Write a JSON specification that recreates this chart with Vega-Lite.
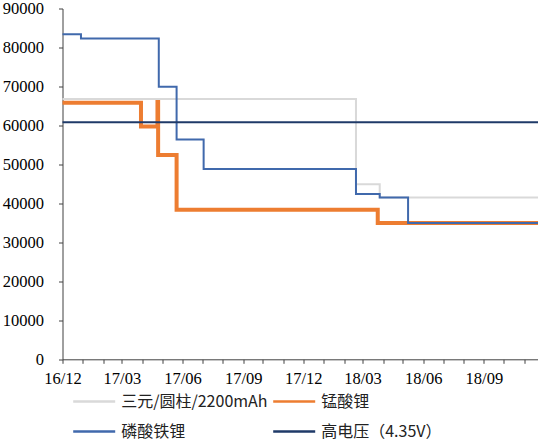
{
  "$schema": "https://vega.github.io/schema/vega-lite/v6.json",
  "width": 475.5,
  "height": 350.8,
  "autosize": {"type": "none"},
  "padding": {"left": 62.5, "top": 8.5, "right": 0, "bottom": 82.7},
  "background": "white",
  "config": {"view": {"stroke": null}},
  "data": {
    "values": [
      {"series": "三元/圆柱/2200mAh", "date": "2016-12-01", "price": 66800},
      {"series": "三元/圆柱/2200mAh", "date": "2018-02-19", "price": 44900},
      {"series": "三元/圆柱/2200mAh", "date": "2018-03-27", "price": 41500},
      {"series": "三元/圆柱/2200mAh", "date": "2018-11-22", "price": 41500},
      {"series": "锰酸锂", "date": "2016-12-01", "price": 65800},
      {"series": "锰酸锂", "date": "2017-03-30", "price": 59700},
      {"series": "锰酸锂", "date": "2017-04-24", "price": 66000},
      {"series": "锰酸锂", "date": "2017-04-25", "price": 52400},
      {"series": "锰酸锂", "date": "2017-05-23", "price": 38400},
      {"series": "锰酸锂", "date": "2018-03-24", "price": 35000},
      {"series": "锰酸锂", "date": "2018-11-22", "price": 35000},
      {"series": "磷酸铁锂", "date": "2016-12-01", "price": 83400},
      {"series": "磷酸铁锂", "date": "2016-12-29", "price": 82300},
      {"series": "磷酸铁锂", "date": "2017-04-26", "price": 69900},
      {"series": "磷酸铁锂", "date": "2017-05-23", "price": 56400},
      {"series": "磷酸铁锂", "date": "2017-07-03", "price": 48800},
      {"series": "磷酸铁锂", "date": "2018-02-19", "price": 42400},
      {"series": "磷酸铁锂", "date": "2018-03-27", "price": 41500},
      {"series": "磷酸铁锂", "date": "2018-05-09", "price": 35000},
      {"series": "磷酸铁锂", "date": "2018-11-22", "price": 35000},
      {"series": "高电压（4.35V）", "date": "2016-12-01", "price": 60800},
      {"series": "高电压（4.35V）", "date": "2018-11-22", "price": 60800}
    ]
  },
  "mark": {"type": "line", "interpolate": "step-after"},
  "encoding": {
    "x": {
      "field": "date",
      "type": "temporal",
      "scale": {
        "type": "utc",
        "domain": [
          {"year": 2016, "month": 12, "date": 1, "utc": true},
          {"year": 2018, "month": 11, "date": 22, "utc": true}
        ]
      },
      "axis": {
        "title": null,
        "grid": false,
        "tickCount": {"interval": "month", "step": 1},
        "labelExpr": "utcmonth(datum.value) % 3 == 2 ? utcFormat(datum.value, '%y/%m') : ''",
        "labelOverlap": false,
        "labelFlush": false,
        "labelFont": "Liberation Serif",
        "labelFontSize": 16.5,
        "labelColor": "#000",
        "labelPadding": 7.5,
        "tickSize": 4,
        "tickColor": "#404040",
        "domainColor": "#404040"
      }
    },
    "y": {
      "field": "price",
      "type": "quantitative",
      "scale": {"domain": [0, 90000], "nice": false},
      "axis": {
        "title": null,
        "grid": false,
        "values": [0, 10000, 20000, 30000, 40000, 50000, 60000, 70000, 80000, 90000],
        "format": "d",
        "labelFont": "Liberation Serif",
        "labelFontSize": 16.5,
        "labelColor": "#000",
        "labelPadding": 15,
        "tickSize": 4,
        "tickColor": "#404040",
        "domainColor": "#404040"
      }
    },
    "color": {
      "field": "series",
      "type": "nominal",
      "sort": ["三元/圆柱/2200mAh", "锰酸锂", "磷酸铁锂", "高电压（4.35V）"],
      "scale": {
        "domain": ["三元/圆柱/2200mAh", "锰酸锂", "磷酸铁锂", "高电压（4.35V）"],
        "range": ["#D9D9D9", "#ED7D31", "#4069AC", "#1F3A68"]
      },
      "legend": {
        "orient": "none",
        "direction": "horizontal",
        "legendX": 9.2,
        "legendY": 385,
        "columns": 2,
        "title": null,
        "symbolType": "stroke",
        "symbolSize": 1764,
        "symbolStrokeWidth": 2.5,
        "clipHeight": 16,
        "rowPadding": 14,
        "columnPadding": 4,
        "labelOffset": 4.5,
        "labelFont": "Noto Sans CJK SC",
        "labelFontSize": 16,
        "labelColor": "#222",
        "labelLimit": 0,
        "padding": 0
      }
    },
    "strokeWidth": {
      "condition": {"test": "datum.series === '锰酸锂'", "value": 4},
      "value": 2
    }
  }
}
